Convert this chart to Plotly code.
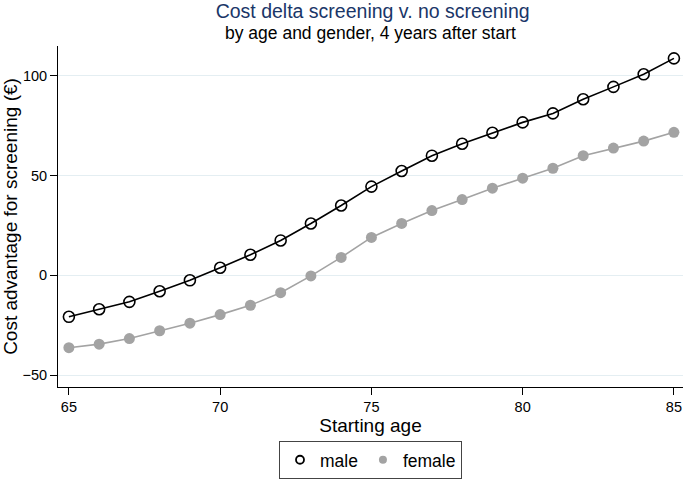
import plotly.graph_objects as go

ages = list(range(65, 86))
male = [-20.8, -17.0, -13.3, -8.0, -2.5, 3.8, 10.3, 17.5, 26.0, 35.0, 44.5,
        52.3, 60.0, 66.0, 71.5, 76.7, 81.2, 88.3, 94.5, 100.8, 108.8]
female = [-36.3, -34.5, -31.7, -27.8, -24.0, -19.7, -15.0, -8.7, -0.3, 9.0, 19.0,
          26.0, 32.5, 38.0, 43.7, 48.7, 53.7, 60.0, 63.8, 67.3, 71.7]
xticks = [65, 70, 75, 80, 85]
yticks = [-50, 0, 50, 100]

FONT = "Liberation Sans, Arial, sans-serif"
MALE_C = "#000000"
FEMALE_C = "#a3a3a3"

fig = go.Figure()
fig.add_trace(go.Scatter(
    x=ages, y=male, name="male", mode="lines+markers", showlegend=False,
    line=dict(color=MALE_C, width=1.6),
    marker=dict(symbol="circle-open", size=11, color=MALE_C, line=dict(width=1.6)),
))
fig.add_trace(go.Scatter(
    x=ages, y=female, name="female", mode="lines+markers", showlegend=False,
    line=dict(color=FEMALE_C, width=1.6),
    marker=dict(symbol="circle", size=11, color=FEMALE_C),
))
# legend entries (markers only, as in the reference)
fig.add_trace(go.Scatter(
    x=[None], y=[None], name="male", mode="markers",
    marker=dict(symbol="circle-open", size=8, color=MALE_C, line=dict(width=1.8)),
))
fig.add_trace(go.Scatter(
    x=[None], y=[None], name="female", mode="markers",
    marker=dict(symbol="circle", size=8, color=FEMALE_C),
))

fig.update_layout(
    width=685, height=480,
    margin=dict(l=58, r=2, t=46, b=93, autoexpand=False),
    paper_bgcolor="white", plot_bgcolor="white",
    font=dict(family=FONT, color="#000000"),
    title=dict(text="Cost delta screening v. no screening", x=0.544, xanchor="center",
               y=1 - 11 / 480, yanchor="middle", font=dict(size=19.5, color="#1a3668", family=FONT)),
    annotations=[dict(text="by age and gender, 4 years after start", xref="paper", yref="paper",
                      x=0.5, y=1.0, yshift=13, showarrow=False,
                      font=dict(size=17.5, color="#000000", family=FONT),
                      xanchor="center", yanchor="middle")],
    xaxis=dict(range=[64.64, 85.30], tickvals=xticks, showgrid=False, automargin=False,
               showline=True, linecolor="#000000", linewidth=1,
               ticks="outside", ticklen=7, tickcolor="#000000",
               tickfont=dict(size=14.5), zeroline=False,
               title=dict(text="Starting age", font=dict(size=19), standoff=4)),
    yaxis=dict(range=[-56, 115], tickvals=yticks, showgrid=True, gridcolor="#e4eef2",
               gridwidth=1, showline=True, linecolor="#000000", linewidth=1, automargin=False,
               ticks="outside", ticklen=7, tickcolor="#000000",
               tickfont=dict(size=14.5), zeroline=False,
               title=dict(text="Cost advantage for screening (€)", font=dict(size=19), standoff=3)),
    legend=dict(orientation="h", x=0.5, xanchor="center", y=-0.158, yanchor="top",
                bordercolor="#444444", borderwidth=1, font=dict(size=17.5),
                itemwidth=30, tracegroupgap=0),
    showlegend=True,
)

fig.write_html("out.html", config={"displayModeBar": False},
               post_script="document.body.style.margin='0';")
